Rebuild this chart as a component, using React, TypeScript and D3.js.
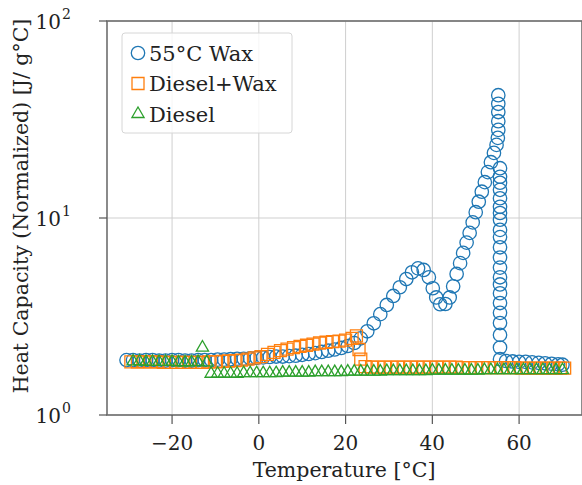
import React, { useMemo } from "react"
import * as d3 from "d3"

const W = 582
const H = 485

// 55°C wax
const waxTemp = [
  -30.5, -29, -27.5, -26, -24.5, -23, -21.5, -20, -18.5, -17, -15.5, -14, -12.5, -11, -9.5, -8, -6.5, -5, -3.5, -2,
  -0.5, 1, 2.5, 4, 5.5, 7, 8.5, 10, 11.5, 13, 14.5, 16, 17.5, 19, 20.5, 22, 23.5, 25, 26.5, 28, 29.5, 31, 32.5, 34,
  35.3, 36.7, 38, 39.2, 40.1, 40.9, 41.8, 43, 44, 44.8, 45.6, 46.4, 47.1, 47.9, 48.6, 49.3, 50, 50.7, 51.4, 52.1,
  52.8, 53.5, 54.2, 54.8, 55.1, 55.2, 55.2, 55.2, 55.2, 55.2, 55.6, 55.6, 55.6, 55.6, 55.6, 55.6, 55.6, 55.6, 55.6,
  55.6, 55.6, 55.6, 55.6, 55.6, 55.6, 55.6, 55.6, 55.6, 55.6, 55.6, 55.6, 55.6, 57, 58.5, 60, 61.5, 63, 64.5, 66,
  67.5, 69, 70,
]
const waxCp = [
  1.9, 1.9, 1.89, 1.9, 1.9, 1.89, 1.89, 1.9, 1.9, 1.89, 1.89, 1.9, 1.9, 1.9, 1.91, 1.91, 1.92, 1.93, 1.93, 1.94,
  1.95, 1.96, 1.97, 1.98, 1.98, 1.99, 2.0, 2.02, 2.04, 2.06, 2.09, 2.12, 2.15, 2.19, 2.24, 2.32, 2.45, 2.66, 2.92,
  3.25, 3.62, 4.02, 4.45, 4.9, 5.3, 5.55, 5.45, 5.0, 4.4, 3.95, 3.65, 3.66, 3.95, 4.5, 5.2, 5.9, 6.65, 7.5, 8.4,
  9.5, 10.7, 12.1, 13.6, 15.2, 17.1, 19.2, 21.4, 23.5, 25.5, 28.0, 31.0, 34.5, 38.0, 42.0, 17.9, 16.2, 15.1, 13.9,
  12.6, 11.4, 10.6, 9.8, 8.7, 8.0, 7.1, 6.3, 5.6, 5.0, 4.6, 4.15, 3.7, 3.3, 2.93, 2.55, 2.2, 1.92, 1.88, 1.87,
  1.86, 1.86, 1.85, 1.84, 1.83, 1.82, 1.81, 1.8,
]

// Diesel + wax
const mixTemp = [
  -29.5, -28, -26.5, -25, -23.5, -22, -20.5, -19, -17.5, -16, -14.5, -13, -11.5, -10, -8.5, -7, -5.5, -4, -2.5, -1,
  0.5, 2, 3.5, 5, 6.5, 8, 9.5, 11, 12.5, 14, 15.5, 17, 18.5, 20, 21.5, 22.5, 23.1, 23.5, 24.5, 26, 27.5, 29, 30.5,
  32, 33.5, 35, 36.5, 38, 39.5, 41, 42.5, 44, 45.5, 47, 48.5, 50, 51.5, 53, 54.5, 56, 57.5, 59, 60.5, 62, 63.5, 65,
  66.5, 68, 69.5, 70.5,
]
const mixCp = [
  1.86, 1.86, 1.86, 1.86, 1.86, 1.85, 1.85, 1.85, 1.85, 1.85, 1.85, 1.85, 1.86, 1.86, 1.87, 1.88, 1.89, 1.9, 1.92,
  1.95, 1.98, 2.03, 2.08, 2.12, 2.16, 2.2, 2.23, 2.26, 2.29, 2.32, 2.34, 2.36, 2.37, 2.4, 2.45, 2.52, 2.15, 1.92,
  1.76, 1.75, 1.75, 1.75, 1.75, 1.75, 1.75, 1.75, 1.75, 1.75, 1.75, 1.75, 1.75, 1.75, 1.75, 1.74, 1.74, 1.74, 1.74,
  1.74, 1.74, 1.74, 1.74, 1.74, 1.73, 1.73, 1.73, 1.73, 1.73, 1.73, 1.73, 1.73,
]

// Diesel
const dieselTemp = [
  -29, -27.5, -26, -24.5, -23, -21.5, -20, -18.5, -17, -15.5, -14, -13, -12, -11, -9.5, -8, -6.5, -5, -3.5, -2,
  -0.5, 1, 2.5, 4, 5.5, 7, 8.5, 10, 11.5, 13, 14.5, 16, 17.5, 19, 20.5, 22, 23.5, 25, 26.5, 28, 29.5, 31, 32.5, 34,
  35.5, 37, 38.5, 40, 41.5, 43, 44.5, 46, 47.5, 49, 50.5, 52, 53.5, 55, 56.5, 58, 59.5, 61, 62.5, 64, 65.5, 67,
  68.5, 70,
]
const dieselCp = [
  1.87, 1.87, 1.86, 1.86, 1.86, 1.86, 1.86, 1.85, 1.85, 1.85, 1.86, 2.2, 1.85, 1.62, 1.62, 1.62, 1.62, 1.62, 1.63,
  1.63, 1.63, 1.63, 1.63, 1.63, 1.64, 1.64, 1.64, 1.64, 1.64, 1.65, 1.65, 1.65, 1.65, 1.65, 1.66, 1.66, 1.66, 1.66,
  1.66, 1.66, 1.67, 1.67, 1.67, 1.67, 1.67, 1.67, 1.67, 1.68, 1.68, 1.68, 1.68, 1.68, 1.68, 1.68, 1.68, 1.69, 1.69,
  1.69, 1.69, 1.69, 1.69, 1.69, 1.69, 1.69, 1.69, 1.69, 1.69, 1.69,
]

const xTicks = [-20, 0, 20, 40, 60]
const yTicks = [1, 10, 100]
const seriesNames = ["55°C Wax", "Diesel+Wax", "Diesel"]
const seriesColors = ["#1f77b4", "#ff7f0e", "#2ca02c"]

const FONT = "'DejaVu Serif', serif"

export default function App() {
  const margin = { top: 21, right: 0, bottom: 70, left: 107 }
  const x = useMemo(() => d3.scaleLinear().domain([-35, 74.5]).range([margin.left, W - margin.right]), [])
  const y = useMemo(() => d3.scaleLog().domain([1, 100]).range([H - margin.bottom, margin.top]), [])

  const symbols = [
    d3.symbol(d3.symbolCircle, Math.PI * 6.7 * 6.7)(),
    d3.symbol(d3.symbolSquare, 12 * 12)(),
    d3.symbol(d3.symbolTriangle, 64)(),
  ]

  const series = [
    { t: waxTemp, v: waxCp },
    { t: mixTemp, v: mixCp },
    { t: dieselTemp, v: dieselCp },
  ]

  const [x0, x1] = x.range()
  const [yb, yt] = y.range()
  const fmtX = (d: number) => (d < 0 ? "\u2212" + Math.abs(d) : String(d))

  return (
    <svg
      width={W}
      height={H}
      style={{ position: "absolute", left: 0, top: 0, background: "#fff" }}
      fontFamily={FONT}
    >
      <defs>
        <clipPath id="plot-clip">
          <rect x={x0} y={yt} width={x1 - x0} height={yb - yt} />
        </clipPath>
      </defs>

      {/* grid */}
      <g stroke="#cfcfcf" strokeWidth={1}>
        {xTicks.map((d) => (
          <line key={"gx" + d} x1={x(d)} x2={x(d)} y1={yt} y2={yb} />
        ))}
        {yTicks.map((d) => (
          <line key={"gy" + d} x1={x0} x2={x1} y1={y(d)} y2={y(d)} />
        ))}
      </g>

      {/* markers */}
      <g clipPath="url(#plot-clip)" fill="none" strokeWidth={1.3}>
        {series.map((s, i) => (
          <g key={i} stroke={seriesColors[i]}>
            {s.t.map((t, j) => (
              <path key={j} d={symbols[i]!} transform={`translate(${x(t)},${y(s.v[j])})`} />
            ))}
          </g>
        ))}
      </g>

      {/* frame */}
      <rect x={x0} y={yt} width={x1 - x0} height={yb - yt} fill="none" stroke="#6e6e6e" strokeWidth={1.6} />

      {/* x axis */}
      <g>
        {xTicks.map((d) => (
          <g key={"tx" + d} transform={`translate(${x(d)},${yb})`}>
            <line y1={0} y2={9} stroke="#555" strokeWidth={1.2} />
            <text y={35} textAnchor="middle" fontSize={20} fill="#222">
              {fmtX(d)}
            </text>
          </g>
        ))}
        <text x={344} y={477} textAnchor="middle" fontSize={20.5} fill="#222">
          Temperature [°C]
        </text>
      </g>

      {/* y axis */}
      <g>
        {yTicks.map((d) => (
          <g key={"ty" + d} transform={`translate(${x0},${y(d)})`}>
            <line x1={-8} x2={0} stroke="#555" strokeWidth={1.2} />
            <text x={-46} y={8} textAnchor="end" fontSize={20} fill="#222">
              10
            </text>
            <text x={-45} y={-2} textAnchor="start" fontSize={14} fill="#222">
              {Math.round(Math.log10(d))}
            </text>
          </g>
        ))}
        <text transform={`translate(28,206) rotate(-90)`} textAnchor="middle" fontSize={20.5} fill="#222">
          Heat Capacity (Normalized) [J/ g°C]
        </text>
      </g>

      {/* legend */}
      <g>
        <rect x={122} y={33} width={170} height={100} rx={3} fill="#fff" fillOpacity={0.8} stroke="#d6d6d6" />
        {seriesNames.map((name, i) => (
          <g key={name} transform={`translate(138,${53 + i * 30.5})`}>
            <path d={symbols[i]!} fill="none" stroke={seriesColors[i]} strokeWidth={1.3} />
            <text x={11} y={7.5} fontSize={21} fill="#222">
              {name}
            </text>
          </g>
        ))}
      </g>
    </svg>
  )
}
